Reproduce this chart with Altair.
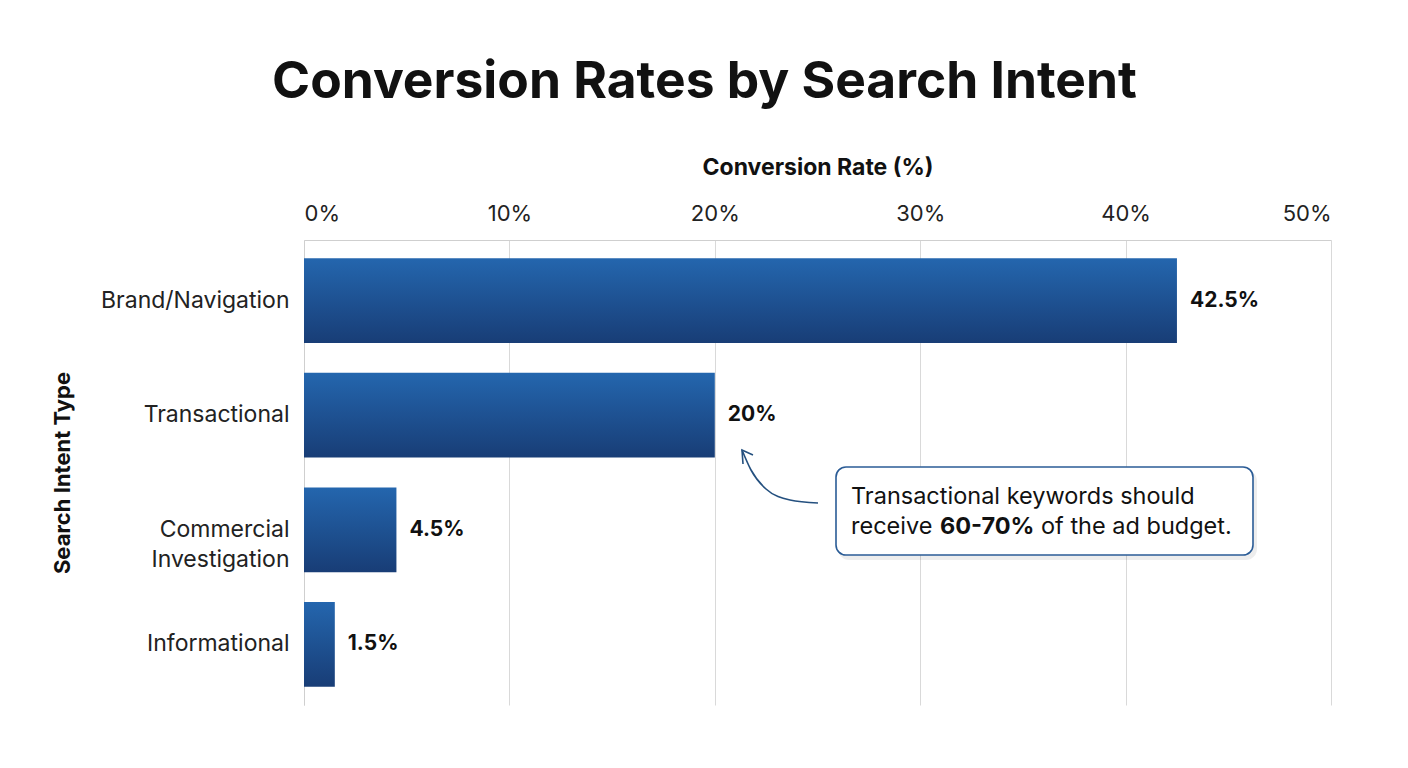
import altair as alt
import pandas as pd

# data
intents = ["Brand/Navigation", "Transactional", "Commercial Investigation", "Informational"]
rates = [42.5, 20.0, 4.5, 1.5]
rate_labels = ["42.5%", "20%", "4.5%", "1.5%"]
x_ticks = [0, 10, 20, 30, 40, 50]

FONT = "Inter"
W, H = 1027, 465

df = pd.DataFrame({"intent": intents, "rate": rates, "label": rate_labels})

y_enc = alt.Y(
    "intent:N",
    sort=intents,
    title="Search Intent Type",
    scale=alt.Scale(paddingInner=0.26, paddingOuter=0.16),
    axis=alt.Axis(
        labelExpr="datum.label == 'Commercial Investigation' ? ['Commercial', 'Investigation'] : datum.label",
        labelFontSize=23,
        labelColor="#222222",
        labelPadding=15,
        labelLineHeight=30,
        labelAlign="right",
        labelLimit=320,
        ticks=False,
        domainColor="#cfcfcf",
        titleFontSize=22,
        titleFontWeight="bold",
        titlePadding=30,
        titleColor="#111111",
    ),
)

x_enc = alt.X(
    "rate:Q",
    scale=alt.Scale(domain=[0, 50], nice=False),
    title="Conversion Rate (%)",
    axis=alt.Axis(
        orient="top",
        values=x_ticks,
        labelExpr="datum.value + '%'",
        labelFontSize=22,
        labelColor="#222222",
        labelPadding=15,
        ticks=False,
        domainColor="#cfcfcf",
        gridColor="#d9d9d9",
        titleFontSize=23,
        titleFontWeight="bold",
        titlePadding=23,
        titleColor="#111111",
    ),
)

bar_fill = alt.Gradient(
    gradient="linear",
    x1=0, x2=0, y1=0, y2=1,
    stops=[
        alt.GradientStop(offset=0, color="#2466ae"),
        alt.GradientStop(offset=1, color="#183d76"),
    ],
)

bars = alt.Chart(df).mark_bar(color=bar_fill).encode(x=x_enc, y=y_enc)

values = alt.Chart(df).mark_text(
    align="left", baseline="middle", dx=13, font=FONT, fontSize=21,
    fontWeight="bold", color="#111111",
).encode(x="rate:Q", y=alt.Y("intent:N", sort=intents), text="label:N")

base = alt.layer(bars, values)

# annotation, in plot-area pixels
box = pd.DataFrame({"x": [532], "x2": [949], "y": [227], "y2": [315]})
shadow = pd.DataFrame({"x": [534], "x2": [953], "y": [230], "y2": [320]})
note_plain = pd.DataFrame({
    "x": [547, 547, 737],
    "y": [257, 287, 287],
    "t": ["Transactional keywords should", "receive", "of the ad budget."],
})
note_bold = pd.DataFrame({"x": [636], "y": [287], "t": ["60-70%"]})
curve = pd.DataFrame({"x": [438, 447, 462, 486, 514], "y": [210, 230, 249, 260, 263]})
head = pd.DataFrame({"x": [439, 438, 449], "y": [224, 210, 215], "o": [0, 1, 2]})

px = lambda f: alt.X(f, scale=None, axis=None)
py = lambda f: alt.Y(f, scale=None, axis=None)

shadow_l = alt.Chart(shadow).mark_rect(cornerRadius=11, color="#000000", opacity=0.07).encode(
    x=px("x:Q"), x2="x2:Q", y=py("y:Q"), y2="y2:Q")
box_l = alt.Chart(box).mark_rect(
    cornerRadius=10, fill="white", stroke="#2b5c96", strokeWidth=1.6
).encode(x=px("x:Q"), x2="x2:Q", y=py("y:Q"), y2="y2:Q")
plain_l = alt.Chart(note_plain).mark_text(
    align="left", baseline="middle", font=FONT, fontSize=23.5, color="#111111"
).encode(x=px("x:Q"), y=py("y:Q"), text="t:N")
bold_l = alt.Chart(note_bold).mark_text(
    align="left", baseline="middle", font=FONT, fontSize=23.5, fontWeight="bold", color="#111111"
).encode(x=px("x:Q"), y=py("y:Q"), text="t:N")
curve_l = alt.Chart(curve).mark_line(
    interpolate="monotone", color="#24507f", strokeWidth=1.6
).encode(x=px("x:Q"), y=py("y:Q"))
head_l = alt.Chart(head).mark_line(color="#24507f", strokeWidth=1.6).encode(
    x=px("x:Q"), y=py("y:Q"), order="o:Q")

chart = (
    alt.layer(base, shadow_l, box_l, plain_l, bold_l, curve_l, head_l)
    .resolve_scale(x="independent", y="independent")
    .properties(
        width=W,
        height=H,
        padding={"left": 43, "top": 48, "right": 30, "bottom": 20},
        title=alt.TitleParams(
            "Conversion Rates by Search Intent",
            font=FONT, fontSize=51.5, fontWeight="bold", color="#111111",
            anchor="middle", frame="group", dx=-113, offset=48,
        ),
    )
    .configure(font=FONT)
    .configure_view(stroke=None)
    .configure_axis(labelFont=FONT, titleFont=FONT)
)

chart.save("out.html", embed_options={"renderer": "svg", "actions": False})
